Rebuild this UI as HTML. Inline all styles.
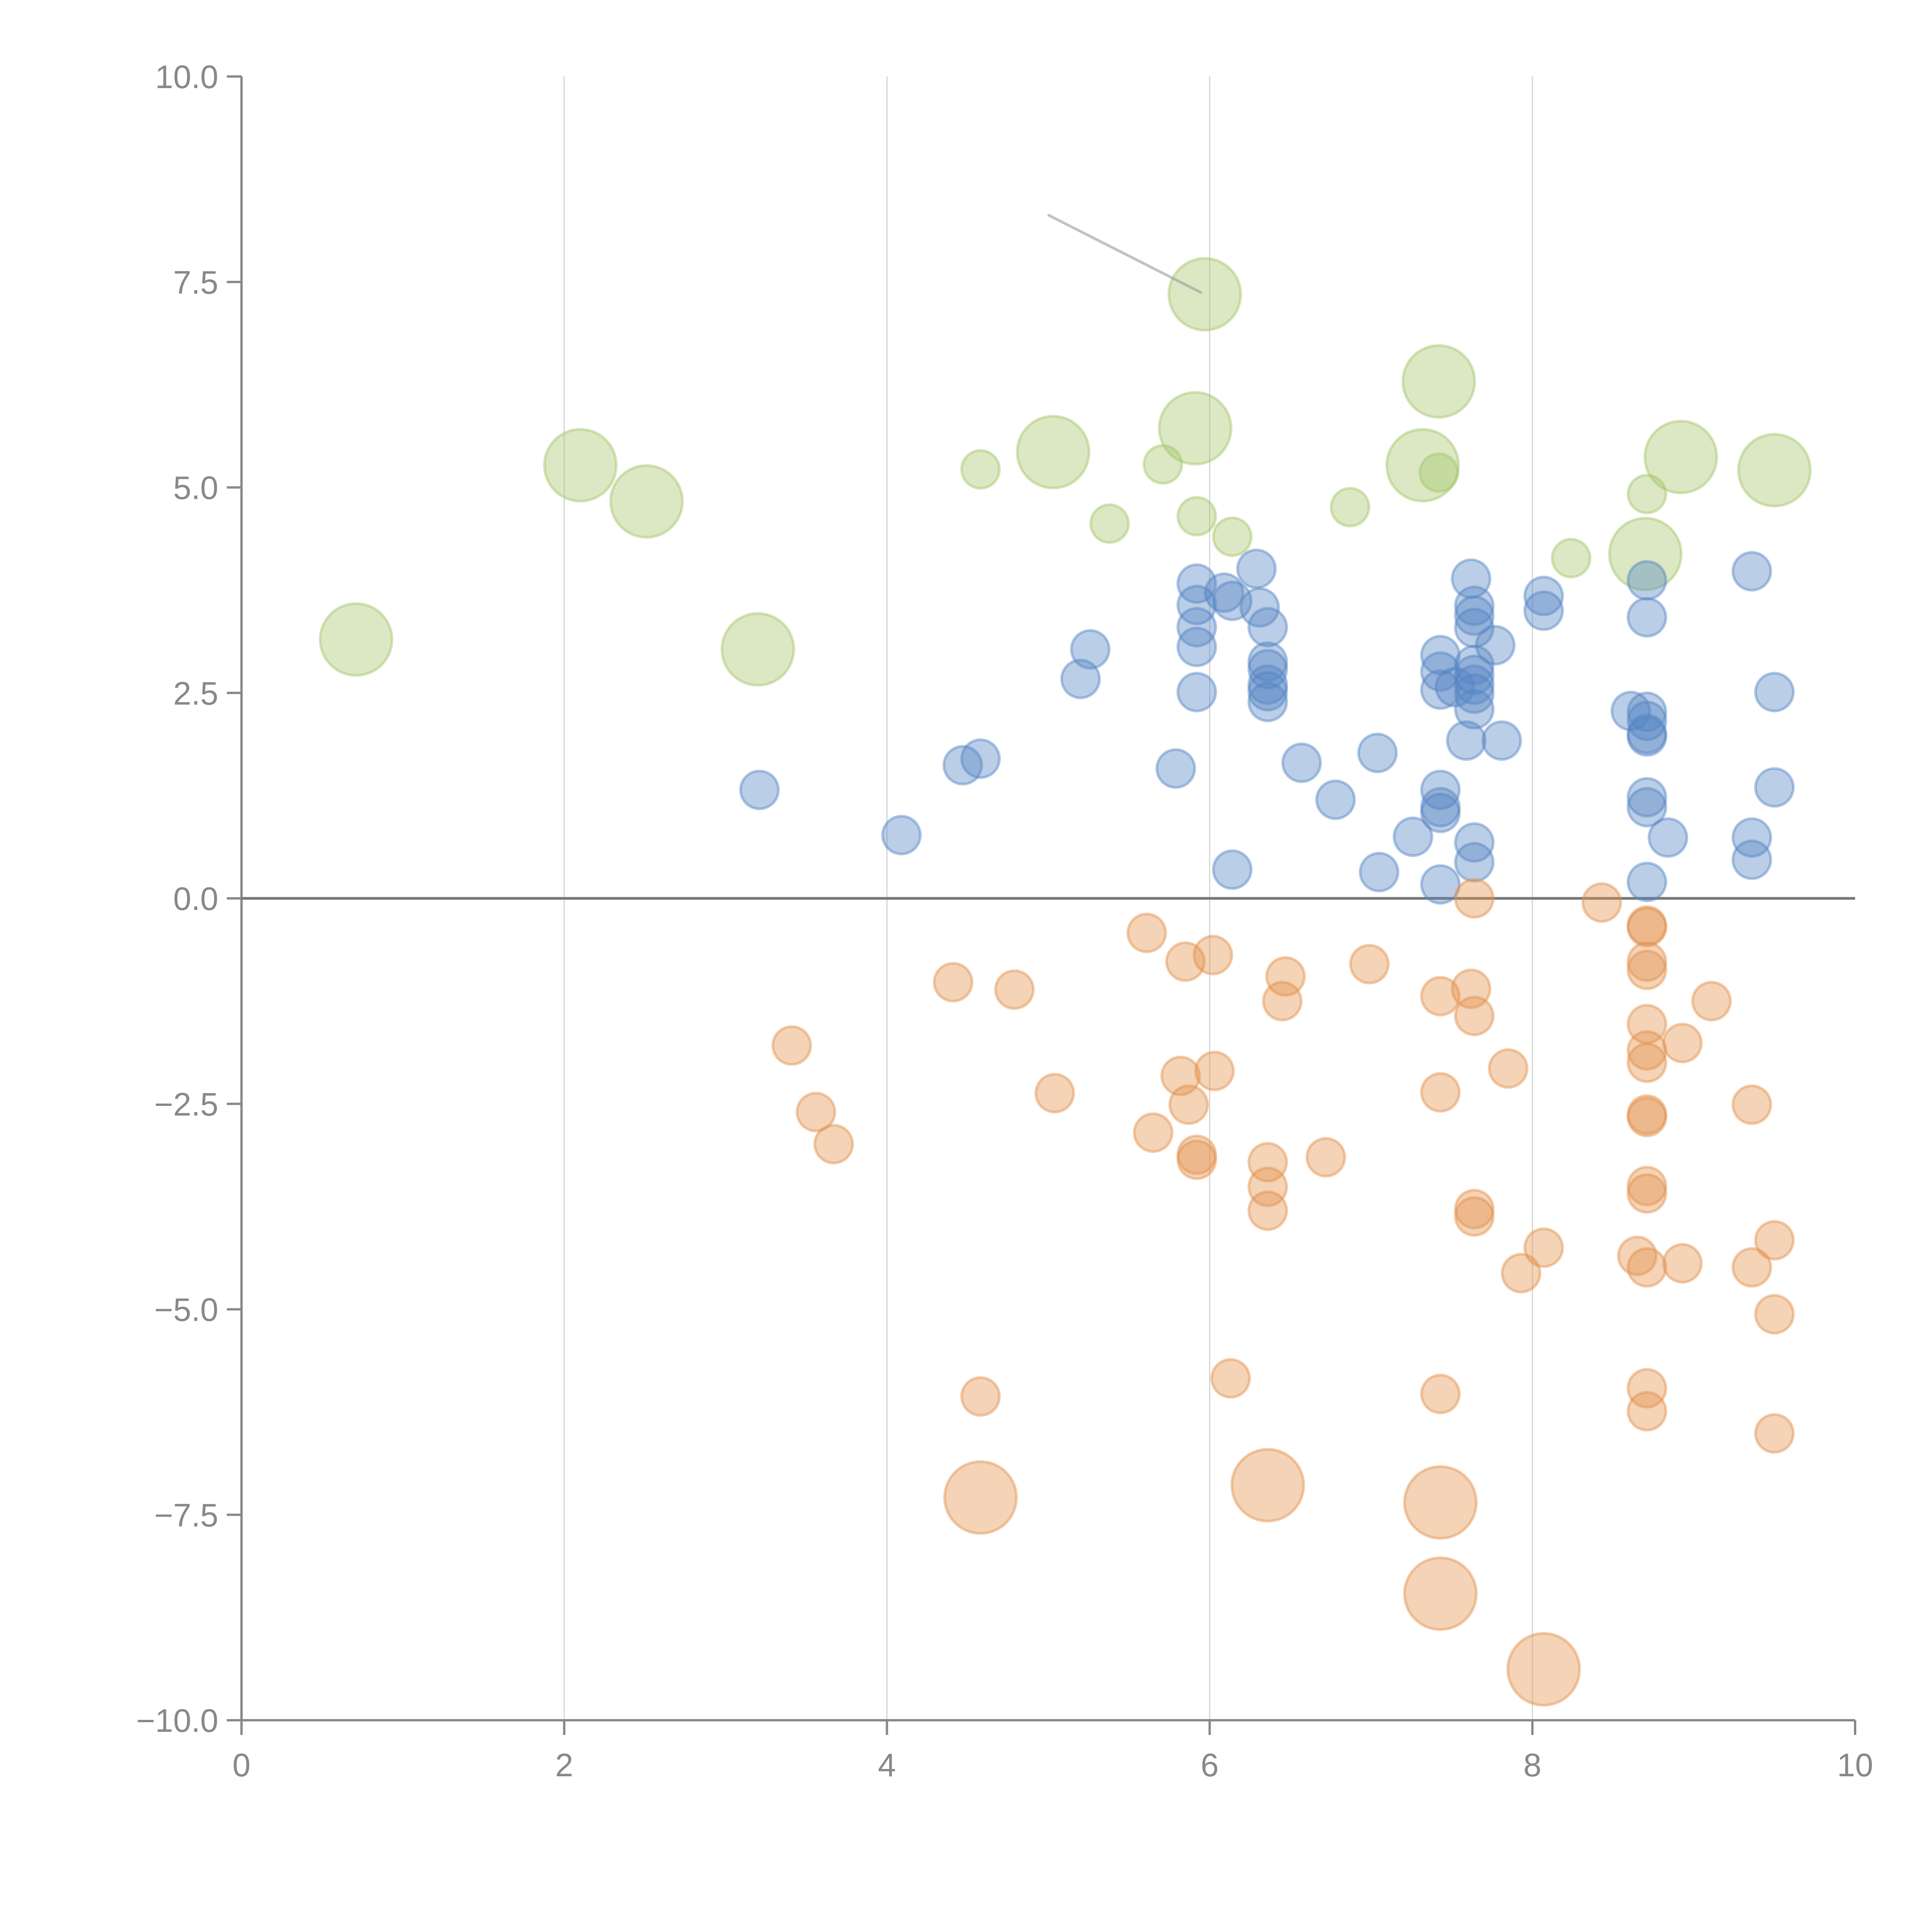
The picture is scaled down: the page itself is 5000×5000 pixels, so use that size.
<!DOCTYPE html>
<html><head><meta charset="utf-8"><style>
html,body{margin:0;padding:0;background:#fff}
svg{display:block}
text{font-family:"Liberation Sans",Arial,sans-serif;fill:#888}
</style></head><body>
<svg id="chart" width="5000" height="5000" viewBox="0 0 5000 5000" xmlns="http://www.w3.org/2000/svg">
<g id="grid"></g>
<g id="axes"></g>
<g id="marks"></g>
</svg>
<script>
const xTicks=[0,2,4,6,8,10];
const xTickLabels=["0","2","4","6","8","10"];
const yTicks=[-10,-7.5,-5,-2.5,0,2.5,5,7.5,10];
const yTickLabels=["\u221210.0","\u22127.5","\u22125.0","\u22122.5","0.0","2.5","5.0","7.5","10.0"];

const greenX=[0.71,2.10,2.51,3.20,5.03,5.97,5.91,7.42,7.32,8.92,9.50,8.70,4.58,5.71,5.38,5.92,6.14,6.87,7.42,8.24,8.71];
const greenY=[3.15,5.27,4.83,3.03,5.43,7.35,5.72,6.29,5.27,5.37,5.21,4.19,5.22,5.28,4.56,4.65,4.40,4.76,5.18,4.14,4.92];
const greenS=[3.6,3.6,3.6,3.6,3.6,3.6,3.6,3.6,3.6,3.6,3.6,3.6,1,1,1,1,1,1,1,1,1];

const blueX=[3.21,4.09,4.47,4.58,5.26,5.20,5.79,5.92,5.92,5.92,5.92,5.92,6.09,6.14,6.29,6.31,6.36,6.36,6.36,6.36,6.36,6.36,6.14,6.57,6.78,7.04,7.05,7.26,7.43,7.43,7.43,7.43,7.43,7.43,7.43,7.52,7.59,7.62,7.64,7.64,7.64,7.64,7.64,7.64,7.64,7.64,7.64,7.64,7.77,7.81,8.07,8.07,8.61,8.71,8.71,8.71,8.71,8.71,8.71,8.71,8.71,8.71,8.84,9.36,9.36,9.36,9.50,9.50];
const blueY=[1.32,0.77,1.62,1.70,3.03,2.67,1.58,3.83,3.57,3.30,3.06,2.51,3.72,3.62,4.01,3.54,3.30,2.88,2.79,2.60,2.52,2.39,0.35,1.65,1.20,1.77,0.32,0.75,2.96,2.76,2.54,1.32,1.11,1.04,0.17,2.57,1.92,3.89,3.56,3.44,3.29,2.84,2.72,2.60,2.49,2.30,0.68,0.44,3.08,1.92,3.68,3.50,2.28,3.87,3.42,2.27,2.16,2.00,1.97,1.23,1.11,0.20,0.74,3.98,0.74,0.47,2.51,1.35];

const orangeX=[3.41,3.56,3.67,4.41,4.79,5.61,5.85,6.02,6.47,6.45,6.99,5.04,5.82,6.03,5.87,5.65,5.92,5.92,6.36,6.36,6.36,6.72,6.13,4.58,7.43,7.43,7.43,7.62,7.64,7.64,7.64,7.64,7.85,7.93,8.07,8.43,8.71,8.71,8.71,8.71,8.71,8.71,8.71,8.71,8.71,8.71,8.71,8.65,8.71,8.71,8.71,8.93,8.93,9.11,9.36,9.36,9.50,9.50,9.50,4.58,6.36,7.43,7.43,8.07];
const orangeY=[-1.79,-2.60,-2.99,-1.02,-1.11,-0.42,-0.77,-0.69,-0.95,-1.25,-0.80,-2.37,-2.16,-2.10,-2.51,-2.85,-3.12,-3.18,-3.21,-3.51,-3.80,-3.15,-5.84,-6.06,-1.19,-2.36,-6.03,-1.10,-1.43,0,-3.78,-3.87,-2.07,-4.56,-4.25,-0.05,-0.33,-0.35,-0.77,-0.87,-1.53,-1.85,-2.00,-2.63,-2.66,-3.50,-3.59,-4.35,-4.49,-5.96,-6.24,-1.76,-4.44,-1.25,-2.51,-4.49,-4.16,-5.06,-6.51,-7.29,-7.14,-7.35,-8.46,-9.38];
const orangeS=[1,1,1,1,1,1,1,1,1,1,1,1,1,1,1,1,1,1,1,1,1,1,1,1,1,1,1,1,1,1,1,1,1,1,1,1,1,1,1,1,1,1,1,1,1,1,1,1,1,1,1,1,1,1,1,1,1,1,1,3.6,3.6,3.6,3.6,3.6];

const X0=625,X1=4801,Y0=4452,Y1=198;
function sx(v){return X0+(v-0)/(10-0)*(X1-X0);}
function sy(v){return Y0-(v+10)/20*(Y0-Y1);}
function sr(s){return 49*Math.sqrt(s);}
const NS="http://www.w3.org/2000/svg";
function mk(tag,attrs,parent){const e=document.createElementNS(NS,tag);for(const k in attrs)e.setAttribute(k,attrs[k]);parent.appendChild(e);return e;}
const grid=document.getElementById('grid'),axes=document.getElementById('axes'),marks=document.getElementById('marks');

xTicks.forEach((t,i)=>{
  if(t>0&&t<10){const g=mk('line',{x1:sx(t),x2:sx(t),y1:Y1,y2:Y0,stroke:'#d4d4d4','stroke-width':3},grid);
  
  }
  const tk=mk('line',{x1:sx(t),x2:sx(t),y1:Y0,y2:Y0+38,stroke:'#888','stroke-width':6},axes);
  
  
  const lb=mk('text',{x:sx(t),y:Y0+145,'text-anchor':'middle','font-size':84},axes);
  lb.textContent=xTickLabels[i];
  
  
});
yTicks.forEach((t,i)=>{
  const tk=mk('line',{x1:X0-38,x2:X0,y1:sy(t),y2:sy(t),stroke:'#888','stroke-width':6},axes);
  
  
  const lb=mk('text',{x:X0-60,y:sy(t)+30,'text-anchor':'end','font-size':84},axes);
  lb.textContent=yTickLabels[i];
  
  
});
const xa=mk('line',{x1:X0,x2:X1,y1:Y0,y2:Y0,stroke:'#888','stroke-width':6},axes);


const ya=mk('line',{x1:X0,x2:X0,y1:Y1,y2:Y0,stroke:'#888','stroke-width':6},axes);


const zl=mk('line',{x1:X0,x2:X1,y1:sy(0),y2:sy(0),stroke:'#777','stroke-width':7},axes);



function series(xs,ys,ss,color,name){
  xs.forEach((x,i)=>{
    const c=mk('circle',{cx:sx(x),cy:sy(ys[i]),r:sr(ss?ss[i]:1),fill:color,'fill-opacity':0.4,stroke:color,'stroke-opacity':0.45,'stroke-width':7},marks);
    
    
  });
}
series(greenX,greenY,greenS,'#a5c66a','green-bubble');
series(blueX,blueY,null,'#5585c4','blue-bubble');
series(orangeX,orangeY,orangeS,'#e3914c','orange-bubble');

const ann=mk('line',{x1:2714,y1:557,x2:3108,y2:757,stroke:'#999','stroke-opacity':0.6,'stroke-width':7,'stroke-linecap':'round'},marks);


</script>
</body></html>
